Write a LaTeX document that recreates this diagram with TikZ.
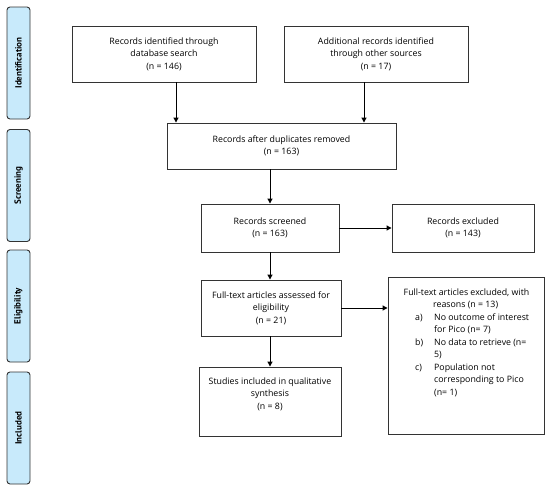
\documentclass[tikz,border=0pt]{standalone}
\usepackage{fontspec}
\setmainfont{Open Sans}
\newfontfamily\labelfont{PT Sans}
\usetikzlibrary{arrows.meta}
\definecolor{barfill}{HTML}{C8EAFB}
\definecolor{edge}{HTML}{333333}
\begin{document}
\begin{tikzpicture}[x=1pt,y=-1pt,
  every node/.style={font=\fontsize{8.8}{12.4}\selectfont, inner sep=0pt},
  stagebar/.style={draw=edge, line width=0.9pt, fill=barfill, rounded corners=3pt,
     minimum width=23pt, minimum height=112pt},
  stagelabel/.style={font=\labelfont\fontsize{9}{10}\selectfont\bfseries, rotate=90},
  flowbox/.style={draw=edge, line width=0.9pt, align=center},
  flowarrow/.style={line width=1pt, -{Triangle[length=5pt,width=5pt]}},
  itemtext/.style={anchor=base west}
]
\useasboundingbox (0,0) rectangle (550,490);

% stage bars
\node[stagebar] (s1) at (18.5,63) {};
\node[stagelabel] (l1) at (s1.center) {Identification};
\node[stagebar] (s2) at (18.5,185.5) {};
\node[stagelabel] (l2) at (s2.center) {Screening};
\node[stagebar] (s3) at (18.5,306) {};
\node[stagelabel] (l3) at (s3.center) {Eligibility};
\node[stagebar] (s4) at (18.5,428) {};
\node[stagelabel] (l4) at (s4.center) {Included};

% boxes
\node[flowbox, minimum width=184pt, minimum height=56pt] (b1) at (164,54)
  {Records identified through\\database search\\(n = 146)};
\node[flowbox, minimum width=184pt, minimum height=56pt] (b2) at (376,54)
  {Additional records identified\\through other sources\\(n = 17)};
\node[flowbox, minimum width=229pt, minimum height=46pt] (b3) at (281.5,146)
  {Records after duplicates removed\\(n = 163)};
\node[flowbox, minimum width=138pt, minimum height=48pt] (b4) at (270,228)
  {Records screened\\(n = 163)};
\node[flowbox, minimum width=142pt, minimum height=48pt] (b5) at (463,228)
  {Records excluded\\(n = 143)};
\node[flowbox, minimum width=140pt, minimum height=56pt] (b6) at (271,308)
  {Full-text articles assessed for\\eligibility\\(n = 21)};
\node[flowbox, minimum width=142pt, minimum height=69pt] (b8) at (270,401.5) {};
\node[align=center] (t8) at (270,394)
  {Studies included in qualitative\\synthesis\\(n = 8)};
\node[flowbox, minimum width=156pt, minimum height=157pt] (b7) at (466,355.5) {};

% text of b7
\node[anchor=base] (r1) at (466.5,295) {Full-text articles excluded, with};
\node[itemtext] (r2) at (433,307.5) {reasons (n = 13)};
\node[itemtext] (ia) at (415,320) {a)};
\node[itemtext] (r3) at (434,320) {No outcome of interest};
\node[itemtext] (r4) at (434,332.5) {for Pico (n= 7)};
\node[itemtext] (ib) at (415,345) {b)};
\node[itemtext] (r5) at (434,345) {No data to retrieve (n=};
\node[itemtext] (r6) at (434,357.5) {5)};
\node[itemtext] (ic) at (415,370) {c)};
\node[itemtext] (r7) at (434,370) {Population not};
\node[itemtext] (r8) at (434,382.5) {corresponding to Pico};
\node[itemtext] (r9) at (434,395) {(n= 1)};

% arrows
\draw[flowarrow] (b1.south -| 176,0) -- (b3.north -| 176,0);
\draw[flowarrow] (b2.south -| 364,0) -- (b3.north -| 364,0);
\draw[flowarrow] (b3.south -| b4.north) -- (b4.north);
\draw[flowarrow] (b4.east) -- (b5.west);
\draw[flowarrow] (b4.south) -- (b4.south |- b6.north);
\draw[flowarrow] (b6.east) -- (b6.east -| b7.west);
\draw[flowarrow] (b6.south -| b8.north) -- (b8.north);
\end{tikzpicture}
\end{document}
